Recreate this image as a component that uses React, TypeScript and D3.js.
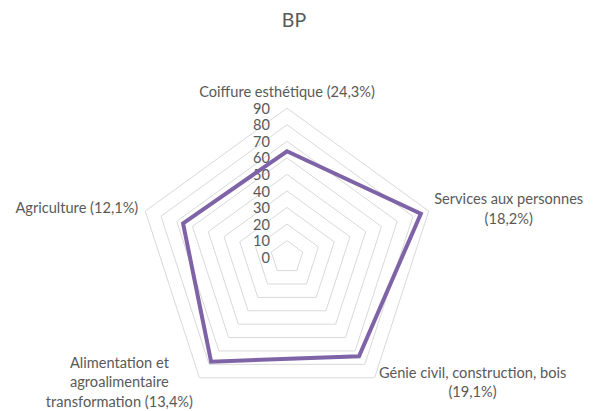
import { useEffect, useRef } from 'react';
import * as d3 from 'd3';

// categories (label lines) and series values
const categories = [
  ['Coiffure esthétique (24,3%)'],
  ['Services aux personnes', '(18,2%)'],
  ['Génie civil, construction, bois', '(19,1%)'],
  ['Alimentation et', 'agroalimentaire', 'transformation (13,4%)'],
  ['Agriculture (12,1%)'],
];
const values = [64, 85, 74, 78, 66];
const ticks = [0, 10, 20, 30, 40, 50, 60, 70, 80, 90];
const title = 'BP';

// label placement relative to the outer vertex (Excel style)
const labelOffsets = [
  { dx: 0, dy: -11, anchor: 'middle' },
  { dx: 80, dy: -7, anchor: 'middle' },
  { dx: 98, dy: 0, anchor: 'middle' },
  { dx: -80, dy: -10, anchor: 'middle' },
  { dx: -7, dy: 2, anchor: 'end' },
];

const WIDTH = 598, HEIGHT = 411;
const CX = 287, CY = 257.2, RADIUS = 149;
const TEXT = '#595959';
const FONT = 'Lato, "Open Sans", sans-serif';
const FS = 14.6;

export default function App() {
  const svgRef = useRef<SVGSVGElement>(null);

  useEffect(() => {
    const svg = d3.select(svgRef.current);
    svg.selectAll('*').remove();

    const r = d3.scaleLinear().domain([0, 90]).range([0, RADIUS]);
    const angle = d3.scaleLinear().domain([0, categories.length]).range([0, 2 * Math.PI]);
    const pt = (i: number, v: number): [number, number] => [
      CX + r(v) * Math.sin(angle(i)),
      CY - r(v) * Math.cos(angle(i)),
    ];

    const g = svg.append('g');

    // title
    svg.append('text')
      .attr('x', WIDTH / 2 - 5).attr('y', 27)
      .attr('text-anchor', 'middle')
      .attr('font-family', FONT).attr('font-size', 19.5)
      .attr('fill', TEXT).text(title);

    // grid pentagons (no spokes, like the original)
    ticks.forEach(t => {
      const pts = categories.map((_, i) => pt(i, t));
      g.append('path')
        .attr('d', d3.line()(pts) + 'Z')
        .attr('fill', 'none').attr('stroke', '#d9d9d9').attr('stroke-width', 1);
    });

    // tick labels
    ticks.forEach(t => {
      g.append('text')
        .attr('x', CX - 17).attr('y', CY - r(t))
        .attr('dy', '0.38em')
        .attr('text-anchor', 'end')
        .attr('font-family', FONT).attr('font-size', FS)
        .attr('fill', TEXT).text(t);
    });

    // series
    const seriesPts = values.map((v, i) => pt(i, v));
    g.append('path')
      .attr('d', d3.line()(seriesPts) + 'Z')
      .attr('fill', 'none').attr('stroke', '#7f63a7')
      .attr('stroke-width', 4).attr('stroke-linejoin', 'miter');

    // category labels
    categories.forEach((lines, i) => {
      const [x, y] = pt(i, 90);
      const o = labelOffsets[i];
      const txt = g.append('text')
        .attr('text-anchor', o.anchor)
        .attr('font-family', FONT).attr('font-size', FS)
        .attr('fill', TEXT);
      lines.forEach((line, k) => {
        txt.append('tspan')
          .attr('x', x + o.dx).attr('y', y + o.dy + k * 19.5)
          .text(line);
      });
    });
  }, []);

  return (
    <svg
      ref={svgRef}
      width={WIDTH}
      height={HEIGHT}
      style={{ position: 'absolute', left: 0, top: 0, background: '#fff' }}
    />
  );
}
